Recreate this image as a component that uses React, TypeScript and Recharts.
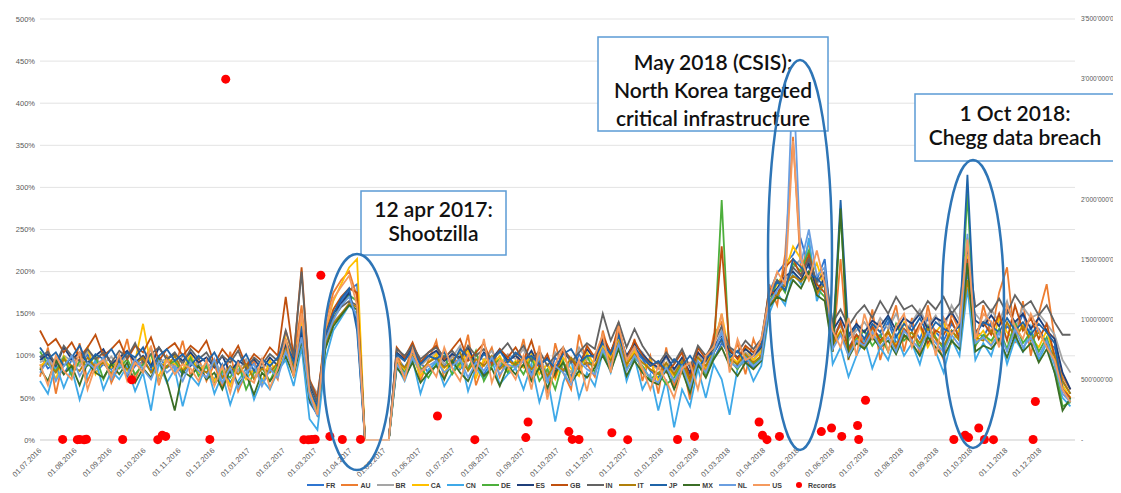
import React from 'react';
import { ComposedChart, Line, Scatter, XAxis, YAxis, CartesianGrid, Legend } from 'recharts';

const DAY = 86400000;
const START = Date.UTC(2016, 6, 1);
const END = Date.UTC(2019, 0, 1);

const monthTicks = [
  '2016-07-01', '2016-08-01', '2016-09-01', '2016-10-01', '2016-11-01', '2016-12-01',
  '2017-01-01', '2017-02-01', '2017-03-01', '2017-04-01', '2017-05-01', '2017-06-01',
  '2017-07-01', '2017-08-01', '2017-09-01', '2017-10-01', '2017-11-01', '2017-12-01',
  '2018-01-01', '2018-02-01', '2018-03-01', '2018-04-01', '2018-05-01', '2018-06-01',
  '2018-07-01', '2018-08-01', '2018-09-01', '2018-10-01', '2018-11-01', '2018-12-01'
];
const leftTicks = [0, 50, 100, 150, 200, 250, 300, 350, 400, 450, 500];
const rightTicks = [0, 500, 1000, 1500, 2000, 2500, 3000, 3500];

const seriesNames = ['FR', 'AU', 'BR', 'CA', 'CN', 'DE', 'ES', 'GB', 'IN', 'IT', 'JP', 'MX', 'NL', 'US'];

// weekly index values in %, one point every 7 days from 01.07.2016
const FR = [
  100, 85, 92, 78, 95, 88, 102, 80, 90, 84,
  96, 75, 88, 93, 82, 99, 86, 91, 78, 94,
  87, 80, 72, 90, 68, 84, 76, 92, 70, 86,
  78, 105, 88, 130, 45, 30, 120, 150, 165, 178,
  185, 0, 0, 0, 0, 98, 86, 104, 92, 80,
  95, 88, 102, 84, 97, 90, 78, 93, 86, 100,
  88, 95, 80, 92, 70, 98, 84, 76, 102, 88,
  94, 110, 98, 118, 92, 105, 96, 82, 74, 90,
  68, 85, 78, 92, 84, 96, 115, 102, 88, 94,
  86, 100, 175, 198, 210, 220, 238, 205, 190, 215,
  120, 140, 110, 125, 118, 132, 122, 140, 115, 128,
  136, 120, 145, 128, 118, 138, 125, 200, 130, 122,
  140, 118, 135, 126, 150, 120, 132, 115, 110, 70,
  55
];
const AU = [
  75, 110, 55, 98, 80, 115, 70, 92, 105, 68,
  88, 120, 72, 95, 110, 65, 100, 85, 118, 76,
  98, 70, 90, 62, 105, 58, 80, 95, 66, 88,
  72, 130, 95, 160, 60, 35, 140, 175, 190, 200,
  170, 0, 0, 0, 0, 105, 78, 115, 70, 95,
  118, 72, 100, 88, 125, 65, 92, 110, 75, 98,
  85, 120, 70, 105, 55, 115, 80, 60, 125, 90,
  75, 130, 95, 140, 85, 120, 70, 100, 55, 110,
  62, 95, 48, 105, 80, 125, 140, 90, 115, 78,
  120, 95, 185, 160, 220, 360, 200, 235, 170, 195,
  105, 215, 95, 140, 110, 155, 95, 130, 160, 105,
  145, 100, 160, 120, 95, 150, 130, 240, 110, 160,
  125, 175, 205, 115, 165, 100, 150, 185, 120, 75,
  60
];
const BR = [
  92, 98, 85, 100, 94, 88, 105, 96, 90, 99,
  86, 102, 95, 88, 108, 92, 97, 84, 100, 93,
  90, 85, 95, 78, 88, 82, 96, 74, 90, 86,
  84, 110, 92, 125, 70, 55, 115, 140, 150, 160,
  155, 0, 0, 0, 0, 100, 94, 108, 88, 97,
  104, 90, 98, 112, 86, 100, 95, 106, 89, 102,
  96, 108, 85, 100, 78, 104, 92, 80, 110, 95,
  102, 118, 105, 125, 98, 112, 104, 90, 84, 98,
  80, 96, 88, 100, 92, 108, 130, 110, 98, 104,
  96, 108, 165, 180, 190, 205, 215, 195, 185, 200,
  125, 135, 118, 130, 140, 125, 145, 132, 150, 128,
  140, 155, 135, 148, 130, 160, 142, 190, 150, 138,
  155, 140, 165, 132, 158, 145, 150, 138, 125, 95,
  80
];
const CA = [
  88, 95, 72, 100, 84, 92, 110, 78, 96, 86,
  100, 82, 94, 138, 88, 76, 98, 90, 84, 102,
  80, 92, 70, 86, 64, 90, 72, 84, 68, 95,
  76, 120, 90, 140, 55, 40, 130, 165, 185, 205,
  215, 0, 0, 0, 0, 96, 84, 100, 76, 92,
  102, 80, 95, 86, 108, 74, 96, 88, 100, 82,
  94, 86, 102, 78, 90, 72, 98, 85, 76, 104,
  88, 112, 96, 120, 90, 106, 82, 95, 70, 88,
  76, 92, 64, 98, 86, 112, 150, 100, 92, 110,
  95, 105, 170, 185, 200, 230, 215, 190, 210, 180,
  115, 130, 100, 122, 108, 135, 115, 128, 112, 140,
  120, 135, 110, 128, 140, 115, 132, 220, 118, 130,
  112, 145, 128, 118, 138, 122, 110, 130, 98, 65,
  50
];
const CN = [
  70, 55, 90, 62, 85, 48, 78, 95, 60, 82,
  72, 88, 58, 80, 35, 92, 68, 84, 40, 76,
  65, 90, 55, 78, 42, 70, 85, 48, 72, 60,
  82, 95, 64, 110, 25, 12, 95, 130, 145, 160,
  150, 0, 0, 0, 0, 88, 70, 96, 55, 84,
  92, 64, 80, 100, 58, 86, 72, 95, 66, 78,
  85, 60, 90, 45, 75, 22, 68, 95, 50, 80,
  64, 105, 80, 115, 70, 98, 60, 78, 35, 72,
  15, 60, 40, 85, 50, 90, 72, 30, 85, 95,
  70, 88, 150, 175, 160, 200, 185, 240, 165, 190,
  90, 110, 75, 100, 120, 85, 110, 95, 125, 100,
  115, 90, 125, 105, 80, 120, 100, 180, 95, 115,
  100, 130, 90, 120, 105, 135, 95, 115, 80, 50,
  40
];
const DE = [
  105, 90, 82, 98, 76, 94, 88, 100, 72, 92,
  85, 96, 78, 90, 102, 70, 88, 94, 80, 98,
  76, 88, 66, 82, 74, 92, 60, 80, 86, 70,
  90, 115, 82, 135, 50, 35, 110, 145, 160, 172,
  165, 0, 0, 0, 0, 92, 80, 98, 86, 74,
  90, 100, 78, 92, 84, 106, 70, 88, 96, 80,
  92, 78, 98, 70, 84, 60, 94, 72, 88, 100,
  80, 102, 90, 112, 84, 98, 88, 72, 80, 66,
  74, 90, 58, 92, 78, 100, 285, 95, 84, 100,
  90, 98, 160, 190, 175, 210, 200, 225, 180, 170,
  110, 270, 105, 120, 130, 112, 125, 105, 138, 118,
  128, 110, 135, 122, 108, 130, 118, 293, 112, 125,
  118, 132, 108, 140, 115, 128, 105, 122, 90, 40,
  45
];
const ES = [
  95, 102, 88, 110, 96, 104, 92, 100, 108, 90,
  98, 106, 92, 100, 88, 110, 96, 102, 94, 104,
  92, 98, 86, 100, 80, 94, 88, 96, 84, 98,
  88, 112, 96, 128, 65, 45, 122, 150, 162, 175,
  140, 0, 0, 0, 0, 104, 96, 110, 92, 100,
  106, 94, 102, 98, 110, 90, 104, 96, 108, 94,
  100, 92, 106, 88, 98, 80, 104, 94, 90, 108,
  96, 120, 104, 128, 100, 115, 102, 92, 86, 100,
  84, 98, 80, 104, 94, 110, 125, 105, 98, 108,
  100, 110, 170, 180, 195, 200, 190, 210, 178, 192,
  130, 145, 125, 138, 128, 142, 135, 148, 130, 145,
  138, 150, 132, 145, 140, 152, 136, 210, 142, 135,
  148, 135, 155, 140, 150, 132, 145, 130, 120, 80,
  60
];
const GB = [
  130, 112, 120, 104, 116, 98, 110, 125, 100, 108,
  118, 96, 112, 104, 122, 94, 108, 115, 100, 112,
  104, 118, 90, 108, 96, 112, 88, 102, 94, 110,
  100, 170, 98, 205, 72, 50, 125, 155, 170, 180,
  175, 0, 0, 0, 0, 110, 98, 116, 92, 104,
  112, 96, 108, 120, 94, 104, 115, 90, 108, 98,
  110, 94, 118, 86, 102, 76, 108, 96, 84, 112,
  98, 124, 104, 132, 96, 118, 100, 88, 92, 80,
  90, 104, 72, 110, 96, 118, 230, 108, 96, 112,
  104, 115, 180, 170, 205, 215, 195, 220, 185, 175,
  115, 140, 108, 125, 112, 135, 118, 128, 110, 132,
  120, 138, 115, 130, 125, 142, 120, 215, 128, 140,
  125, 150, 118, 160, 130, 145, 120, 138, 100, 60,
  50
];
const IN = [
  98, 105, 90, 112, 100, 94, 108, 96, 104, 92,
  106, 98, 115, 92, 102, 110, 96, 104, 90, 108,
  96, 104, 88, 100, 92, 106, 84, 98, 90, 102,
  94, 130, 100, 200, 70, 45, 118, 145, 158, 165,
  160, 0, 0, 0, 0, 108, 100, 112, 96, 104,
  110, 98, 106, 94, 112, 100, 108, 96, 104, 115,
  100, 112, 94, 106, 88, 100, 110, 92, 104, 115,
  108, 150, 118, 140, 110, 132, 112, 98, 90, 104,
  92, 108, 86, 112, 100, 115, 135, 110, 104, 118,
  108, 120, 175, 190, 182, 205, 195, 215, 188, 200,
  140, 155, 135, 150, 160, 145, 165, 150, 170, 155,
  160, 148, 165, 155, 170, 150, 162, 230, 158, 165,
  152, 168, 150, 172, 158, 165, 148, 160, 140, 125,
  125
];
const IT = [
  85, 92, 80, 96, 88, 82, 98, 86, 92, 78,
  94, 84, 90, 98, 80, 92, 86, 100, 82, 90,
  86, 80, 92, 74, 88, 78, 90, 72, 85, 80,
  92, 108, 86, 120, 60, 40, 112, 138, 150, 162,
  158, 0, 0, 0, 0, 94, 86, 100, 82, 92,
  98, 86, 94, 104, 82, 96, 88, 100, 84, 94,
  90, 98, 84, 94, 76, 90, 82, 98, 86, 92,
  88, 108, 94, 116, 90, 102, 92, 84, 78, 92,
  78, 94, 70, 98, 88, 104, 120, 96, 90, 102,
  92, 100, 160, 172, 185, 195, 188, 200, 175, 185,
  112, 128, 105, 118, 110, 125, 115, 130, 108, 122,
  128, 115, 132, 120, 112, 130, 118, 190, 122, 118,
  130, 115, 140, 122, 135, 118, 128, 112, 100, 70,
  55
];
const JP = [
  110, 96, 104, 88, 98, 112, 90, 102, 96, 108,
  92, 104, 98, 110, 86, 100, 108, 94, 102, 88,
  100, 92, 104, 86, 98, 90, 102, 82, 96, 88,
  98, 118, 92, 135, 60, 40, 125, 150, 168, 180,
  130, 0, 0, 0, 0, 102, 94, 108, 90, 100,
  96, 104, 90, 108, 98, 88, 102, 94, 106, 92,
  104, 96, 100, 90, 96, 85, 102, 108, 92, 100,
  100, 115, 102, 124, 96, 110, 98, 88, 94, 82,
  96, 88, 100, 86, 98, 104, 120, 98, 106, 92,
  102, 112, 172, 188, 178, 215, 205, 198, 192, 182,
  118, 285, 122, 135, 120, 138, 128, 145, 122, 138,
  130, 145, 125, 140, 132, 128, 135, 315, 125, 140,
  135, 128, 145, 130, 140, 125, 138, 128, 115, 60,
  45
];
const MX = [
  85, 70, 95, 78, 88, 65, 92, 80, 74, 90,
  78, 92, 68, 85, 74, 96, 70, 35, 82, 75,
  88, 72, 80, 60, 84, 66, 78, 54, 80, 70,
  82, 100, 76, 118, 48, 30, 108, 135, 148, 160,
  155, 0, 0, 0, 0, 86, 74, 92, 68, 80,
  88, 72, 94, 80, 70, 90, 76, 85, 64, 88,
  78, 90, 70, 86, 62, 80, 92, 68, 82, 74,
  86, 100, 82, 108, 76, 94, 80, 70, 66, 84,
  60, 82, 56, 90, 74, 96, 110, 88, 76, 92,
  84, 94, 158, 170, 165, 190, 180, 200, 172, 165,
  105, 275, 98, 115, 108, 122, 110, 118, 102, 125,
  115, 100, 122, 110, 98, 118, 108, 210, 105, 112,
  108, 120, 98, 125, 105, 115, 92, 108, 80, 35,
  50
];
const NL = [
  80, 95, 70, 88, 100, 76, 92, 84, 98, 72,
  90, 78, 96, 84, 72, 94, 80, 88, 70, 92,
  82, 74, 96, 68, 86, 62, 80, 90, 64, 84,
  74, 105, 82, 122, 52, 28, 118, 142, 160, 170,
  145, 0, 0, 0, 0, 90, 78, 98, 82, 88,
  94, 80, 88, 96, 74, 92, 82, 98, 78, 90,
  86, 94, 76, 98, 70, 88, 80, 66, 94, 84,
  78, 108, 88, 114, 82, 100, 86, 74, 68, 86,
  70, 88, 62, 94, 80, 104, 128, 92, 86, 98,
  88, 96, 162, 178, 190, 437, 210, 250, 195, 205,
  108, 125, 100, 118, 112, 128, 110, 122, 105, 130,
  118, 108, 128, 115, 105, 125, 112, 245, 115, 122,
  112, 128, 105, 132, 110, 122, 100, 118, 90, 55,
  45
];
const US = [
  90, 65, 100, 82, 72, 105, 60, 88, 95, 75,
  102, 70, 92, 80, 112, 68, 95, 78, 90, 85,
  70, 95, 64, 88, 56, 92, 75, 68, 96, 62,
  85, 120, 75, 150, 58, 30, 132, 168, 182, 195,
  160, 0, 0, 0, 0, 98, 72, 108, 80, 90,
  75, 110, 85, 70, 102, 80, 120, 68, 95, 88,
  72, 100, 60, 112, 48, 90, 110, 70, 95, 58,
  100, 125, 80, 135, 95, 110, 85, 60, 88, 70,
  50, 85, 92, 60, 100, 110, 150, 80, 120, 95,
  100, 120, 170, 200, 185, 355, 215, 190, 225, 185,
  130, 110, 145, 100, 150, 120, 140, 105, 135, 150,
  110, 135, 150, 100, 145, 125, 140, 238, 120, 150,
  140, 110, 160, 135, 120, 150, 130, 110, 95, 60,
  45
];

// records per breach, in millions (right axis)
const recordDates = [
  '2016-07-21', '2016-08-03', '2016-08-05', '2016-08-09', '2016-08-11', '2016-09-12', '2016-09-20',
  '2016-10-13', '2016-10-17', '2016-10-20', '2016-11-28', '2016-12-12', '2017-02-19', '2017-02-23',
  '2017-02-26', '2017-03-01', '2017-03-06', '2017-03-14', '2017-03-25', '2017-04-10', '2017-06-17',
  '2017-07-20', '2017-09-03', '2017-09-05', '2017-10-11', '2017-10-14', '2017-10-20', '2017-11-18',
  '2017-12-02', '2018-01-15', '2018-01-30', '2018-03-28', '2018-03-31', '2018-04-04', '2018-04-15',
  '2018-05-22', '2018-05-31', '2018-06-09', '2018-06-23', '2018-06-24', '2018-06-30', '2018-09-16',
  '2018-09-26', '2018-09-29', '2018-10-08', '2018-10-13', '2018-10-21', '2018-11-25', '2018-11-27'
];
const recordValues = [
  5, 3, 4, 2, 6, 4, 500,
  3, 40, 30, 5, 3000, 3, 2,
  4, 6, 1370, 30, 4, 5, 200,
  3, 20, 150, 70, 5, 4, 60,
  3, 4, 30, 150, 40, 3, 30,
  70, 100, 30, 120, 4, 330, 4,
  40, 20, 100, 4, 3, 4, 320
];

const colors: Record<string, string> = {
  FR: '#2F75D0', AU: '#ED7D31', BR: '#A5A5A5', CA: '#FFC000', CN: '#3FA9E8',
  DE: '#4DAF3C', ES: '#1F3F7A', GB: '#C0500E', IN: '#636363', IT: '#B07F0A',
  JP: '#1F64A8', MX: '#3B6E26', NL: '#6A9EE0', US: '#F59A5E'
};

const seriesValues: Record<string, number[]> = { FR, AU, BR, CA, CN, DE, ES, GB, IN, IT, JP, MX, NL, US };

const data = FR.map((_, i) => {
  const row: any = { t: START + i * 7 * DAY };
  seriesNames.forEach(n => { row[n] = seriesValues[n][i]; });
  return row;
});

const records = recordDates.map((d, i) => ({ t: Date.parse(d), rec: recordValues[i] }));

const pad = (n: number) => (n < 10 ? '0' + n : '' + n);
const fmtDate = (v: number) => {
  const d = new Date(v);
  return pad(d.getUTCDate()) + '.' + pad(d.getUTCMonth() + 1) + '.' + d.getUTCFullYear();
};
const fmtRecords = (v: number) => {
  if (v === 0) return '-';
  return String(v * 1000000).replace(/\B(?=(\d{3})+(?!\d))/g, "'");
};

const FONT = '"Liberation Sans", Arial, sans-serif';

const DateTick = (props: any) => {
  const { x, y, payload } = props;
  const px = x + 2;
  return (
    <text x={px} y={y} transform={`rotate(-45 ${px} ${y})`} textAnchor="end" fontSize={7.5} fill="#595959" fontFamily={FONT}>
      {fmtDate(payload.value)}
    </text>
  );
};

const LegendRow = () => (
  <div style={{ display: 'flex', justifyContent: 'center', alignItems: 'center', height: 16, fontFamily: FONT, fontSize: 7, fontWeight: 'bold', color: '#404040', paddingLeft: 14 }}>
    {seriesNames.map(n => (
      <span key={n} style={{ display: 'flex', alignItems: 'center', marginRight: 6 }}>
        <span style={{ display: 'inline-block', width: 17, height: 2, background: colors[n], marginRight: 2 }} />
        {n}
      </span>
    ))}
    <span style={{ display: 'flex', alignItems: 'center' }}>
      <span style={{ display: 'inline-block', width: 6, height: 6, borderRadius: 3, background: '#FF0000', margin: '0 6px 0 8px' }} />
      Records
    </span>
  </div>
);

const notes = [
  { x: 353, y: 183, w: 145, h: 64, lines: ['12 apr 2017:', 'Shootzilla'], first: 26, step: 24 },
  { x: 590, y: 29, w: 230, h: 94, lines: ['May 2018 (CSIS):', 'North Korea targeted', 'critical infrastructure'], first: 33, step: 28 },
  { x: 907, y: 86, w: 200, h: 67, lines: ['1 Oct 2018:', 'Chegg data breach'], first: 27, step: 24 }
];
const rings = [
  { cx: 349, cy: 354, rx: 34, ry: 108 },
  { cx: 792, cy: 247, rx: 32, ry: 195 },
  { cx: 965, cy: 296, rx: 31, ry: 144 }
];

const Overlay = () => (
  <svg width={1113} height={485} style={{ position: 'absolute', left: 0, top: 0, pointerEvents: 'none' }}>
    {notes.map((b, i) => (
      <g key={i}>
        <rect x={b.x} y={b.y} width={b.w} height={b.h} fill="#FFFFFF" stroke="#5B9BD5" strokeWidth={1.5} />
        {b.lines.map((l, j) => (
          <text key={j} x={b.x + b.w / 2} y={b.y + b.first + j * b.step} textAnchor="middle" fontFamily="Lato, sans-serif" fontWeight={600} fontSize={21} fill="#111">
            {l}
          </text>
        ))}
      </g>
    ))}
    {rings.map((r, i) => (
      <ellipse key={i} cx={r.cx} cy={r.cy} rx={r.rx} ry={r.ry} fill="none" stroke="#2E75B6" strokeWidth={2.5} />
    ))}
  </svg>
);

const App = () => {
  return (
    <div style={{ position: 'relative', width: 1113, height: 485 }}>
      <ComposedChart width={1113} height={485} data={data} margin={{ top: 11, right: 0, left: 0, bottom: 0 }}>
        <CartesianGrid yAxisId="left" vertical={false} stroke="#E3E3E3" />
        <XAxis
          dataKey="t"
          type="number"
          domain={[START, END]}
          ticks={monthTicks.map(d => Date.parse(d))}
          tick={<DateTick />}
          tickLine={false}
          tickSize={0}
          tickMargin={11}
          height={37}
          stroke="#D9D9D9"
          interval={0}
        />
        <YAxis
          yAxisId="left"
          domain={[0, 500]}
          ticks={leftTicks}
          tickFormatter={(v: number) => v + '%'}
          width={32}
          axisLine={false}
          tickLine={false}
          tickSize={0}
          tickMargin={5}
          tick={{ fontSize: 7.5, fill: '#595959', fontFamily: FONT }}
        />
        <YAxis
          yAxisId="right"
          orientation="right"
          domain={[0, 3500]}
          ticks={rightTicks}
          tickFormatter={fmtRecords}
          width={46}
          axisLine={false}
          tickLine={false}
          tickSize={0}
          tickMargin={6}
          tick={{ fontSize: 6.5, fill: '#595959', fontFamily: FONT, textAnchor: 'start' }}
        />
        <Legend verticalAlign="bottom" height={16} content={() => <LegendRow />} />
        {seriesNames.map(n => (
          <Line
            key={n}
            yAxisId="left"
            type="linear"
            dataKey={n}
            stroke={colors[n]}
            strokeWidth={1.8}
            dot={false}
            isAnimationActive={false}
          />
        ))}
        <Scatter yAxisId="right" data={records} dataKey="rec" fill="#FF0000" isAnimationActive={false} />
      </ComposedChart>
      <Overlay />
    </div>
  );
};

export default App;
